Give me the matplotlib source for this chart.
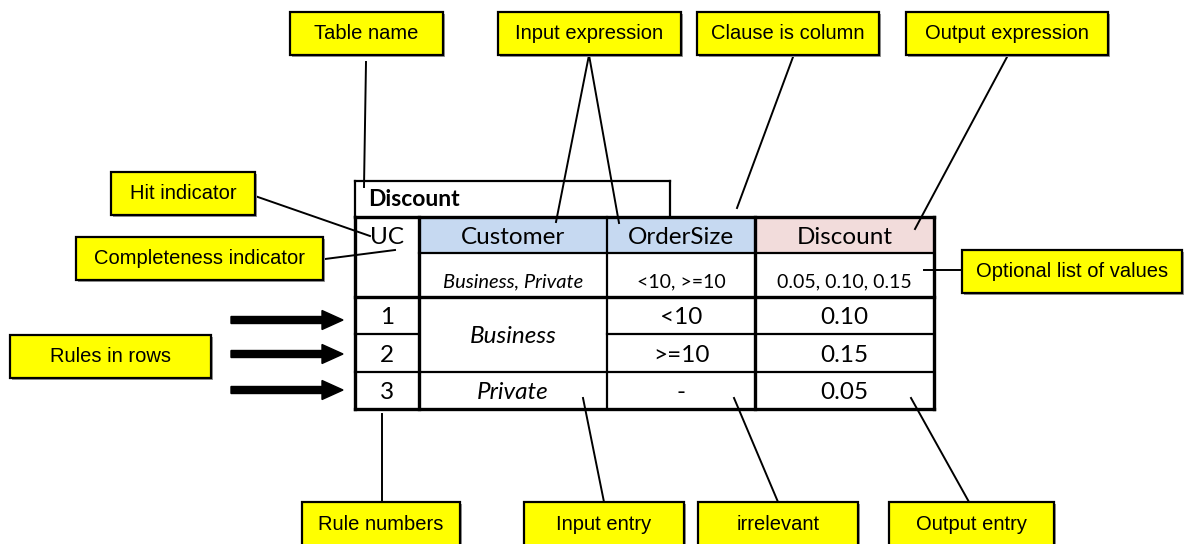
import matplotlib
matplotlib.use("Agg")
import matplotlib.pyplot as plt
from matplotlib.patches import Rectangle, FancyArrow

# ---- data ----
table_name = "Discount"
hit_policy = "UC"
input_headers = ["Customer", "OrderSize"]
output_header = "Discount"
value_lists = ["Business, Private", "<10, >=10", "0.05, 0.10, 0.15"]
rule_numbers = ["1", "2", "3"]
customer_entries = ["Business", "Private"]      # Business spans rules 1-2
ordersize_entries = ["<10", ">=10", "-"]
discount_entries = ["0.10", "0.15", "0.05"]

callout_labels = ["Table name", "Input expression", "Clause is column", "Output expression",
                  "Hit indicator", "Completeness indicator", "Rules in rows",
                  "Optional list of values", "Rule numbers", "Input entry",
                  "irrelevant", "Output entry"]

W, H = 1187, 544
fig = plt.figure(figsize=(W / 100, H / 100), dpi=100)
ax = fig.add_axes([0, 0, 1, 1])
ax.set_xlim(0, W)
ax.set_ylim(H, 0)
ax.axis("off")

TFONT = ["Lato", "DejaVu Sans"]
CFONT = ["Liberation Sans Narrow", "Liberation Sans", "DejaVu Sans"]

# ---- table geometry ----
xL, x1, x2, x3, xR = 355, 419, 607, 755, 934
yT0, yT, yH, yV, y12, y23, yB = 181, 216.5, 253, 296.5, 334, 372, 408.5
xTitleR = 670

blue = "#C6D9F1"
pink = "#F2DCDB"
ax.add_patch(Rectangle((x1, yT), x3 - x1, yH - yT, facecolor=blue, edgecolor="none", zorder=1))
ax.add_patch(Rectangle((x3, yT), xR - x3, yH - yT, facecolor=pink, edgecolor="none", zorder=1))

def seg(xa, ya, xb, yb, lw):
    ax.plot([xa, xb], [ya, yb], color="black", lw=lw, solid_capstyle="projecting", zorder=3)

thick, thin = 2.4, 1.6
# title box
seg(xL, yT0, xTitleR, yT0, thin)
seg(xTitleR, yT0, xTitleR, yT, thin)
seg(xL, yT0, xL, yT, thin)
# outer
seg(xL, yT, xR, yT, thick)
seg(xL, yB, xR, yB, thick)
seg(xL, yT, xL, yB, thick)
seg(xR, yT, xR, yB, thick)
# inner
seg(x1, yT, x1, yB, thick)
seg(x2, yT, x2, yB, thin)
seg(x3, yT, x3, yB, thick)
seg(x1, yH, xR, yH, thin)
seg(xL, yV, xR, yV, thick)
seg(xL, y12, x1, y12, thin)
seg(x2, y12, xR, y12, thin)
seg(xL, y23, xR, y23, thin)

BIG = 17.5
# table text
ax.text(xL + 13, 200, table_name, fontsize=16.5, fontweight="bold", family=TFONT, va="center", ha="left")
ax.text((xL + x1) / 2, 237, hit_policy, fontsize=BIG, family=TFONT, ha="center", va="center")
cx = [(x1 + x2) / 2, (x2 + x3) / 2, (x3 + xR) / 2]
for c, t in zip(cx, input_headers + [output_header]):
    ax.text(c, 237, t, fontsize=BIG, family=TFONT, ha="center", va="center")
for i, (c, t) in enumerate(zip(cx, value_lists)):
    ax.text(c, 282, t, fontsize=14.5 if i == 0 else 14, family=TFONT, ha="center", va="center",
            style="italic" if i == 0 else "normal")
rows_y = [(yV + y12) / 2 + 2, (y12 + y23) / 2 + 2, (y23 + yB) / 2 + 2]
for y, n, o, d in zip(rows_y, rule_numbers, ordersize_entries, discount_entries):
    ax.text((xL + x1) / 2, y, n, fontsize=BIG, family=TFONT, ha="center", va="center")
    ax.text(cx[1], y, o, fontsize=BIG, family=TFONT, ha="center", va="center")
    ax.text(cx[2], y, d, fontsize=BIG, family=TFONT, ha="center", va="center")
ax.text(cx[0], (yV + y23) / 2 + 2, customer_entries[0], fontsize=BIG, style="italic", family=TFONT,
        ha="center", va="center")
ax.text(cx[0], rows_y[2], customer_entries[1], fontsize=BIG, style="italic", family=TFONT,
        ha="center", va="center")

# ---- callouts ----
boxes = [(290, 12, 443, 55), (498, 12, 681, 55), (697, 12, 879, 55), (906, 12, 1108, 55),
         (111, 172, 255, 215), (76, 237, 323, 280), (10, 335, 211, 378),
         (962, 250, 1182, 293), (302, 502, 460, 548), (524, 502, 684, 548),
         (698, 502, 858, 548), (889, 502, 1054, 548)]
for (a, b, c, d), lab in zip(boxes, callout_labels):
    ax.add_patch(Rectangle((a + 2, b + 2), c - a, d - b, facecolor="#9a9a9a", edgecolor="none", zorder=4))
    ax.add_patch(Rectangle((a, b), c - a, d - b, facecolor="#FFFF00", edgecolor="black", lw=1.6, zorder=5))
    yc = (b + d) / 2 if d <= H else b + 22
    ax.text((a + c) / 2, yc, lab, fontsize=14.5, family=CFONT,
            ha="center", va="center", zorder=6)

leaders = [((366, 62), (364, 187)),
           ((589, 55), (556, 222)), ((589, 55), (619, 223)),
           ((793, 57), (737, 208)),
           ((1007, 57), (915, 229)),
           ((255, 196), (370, 236)),
           ((325, 259), (395, 250)),
           ((924, 270), (962, 270)),
           ((382, 414), (382, 502)),
           ((583, 398), (604, 502)),
           ((734, 398), (778, 502)),
           ((911, 398), (969, 502))]
for (p, q) in leaders:
    ax.plot([p[0], q[0]], [p[1], q[1]], color="black", lw=1.4, zorder=3)

for y in [320, 354, 390]:
    ax.add_patch(FancyArrow(231, y, 112, 0, width=7, head_width=19, head_length=21,
                            length_includes_head=True, color="black", zorder=3))

fig.savefig("out.png", dpi=100, facecolor="white")
